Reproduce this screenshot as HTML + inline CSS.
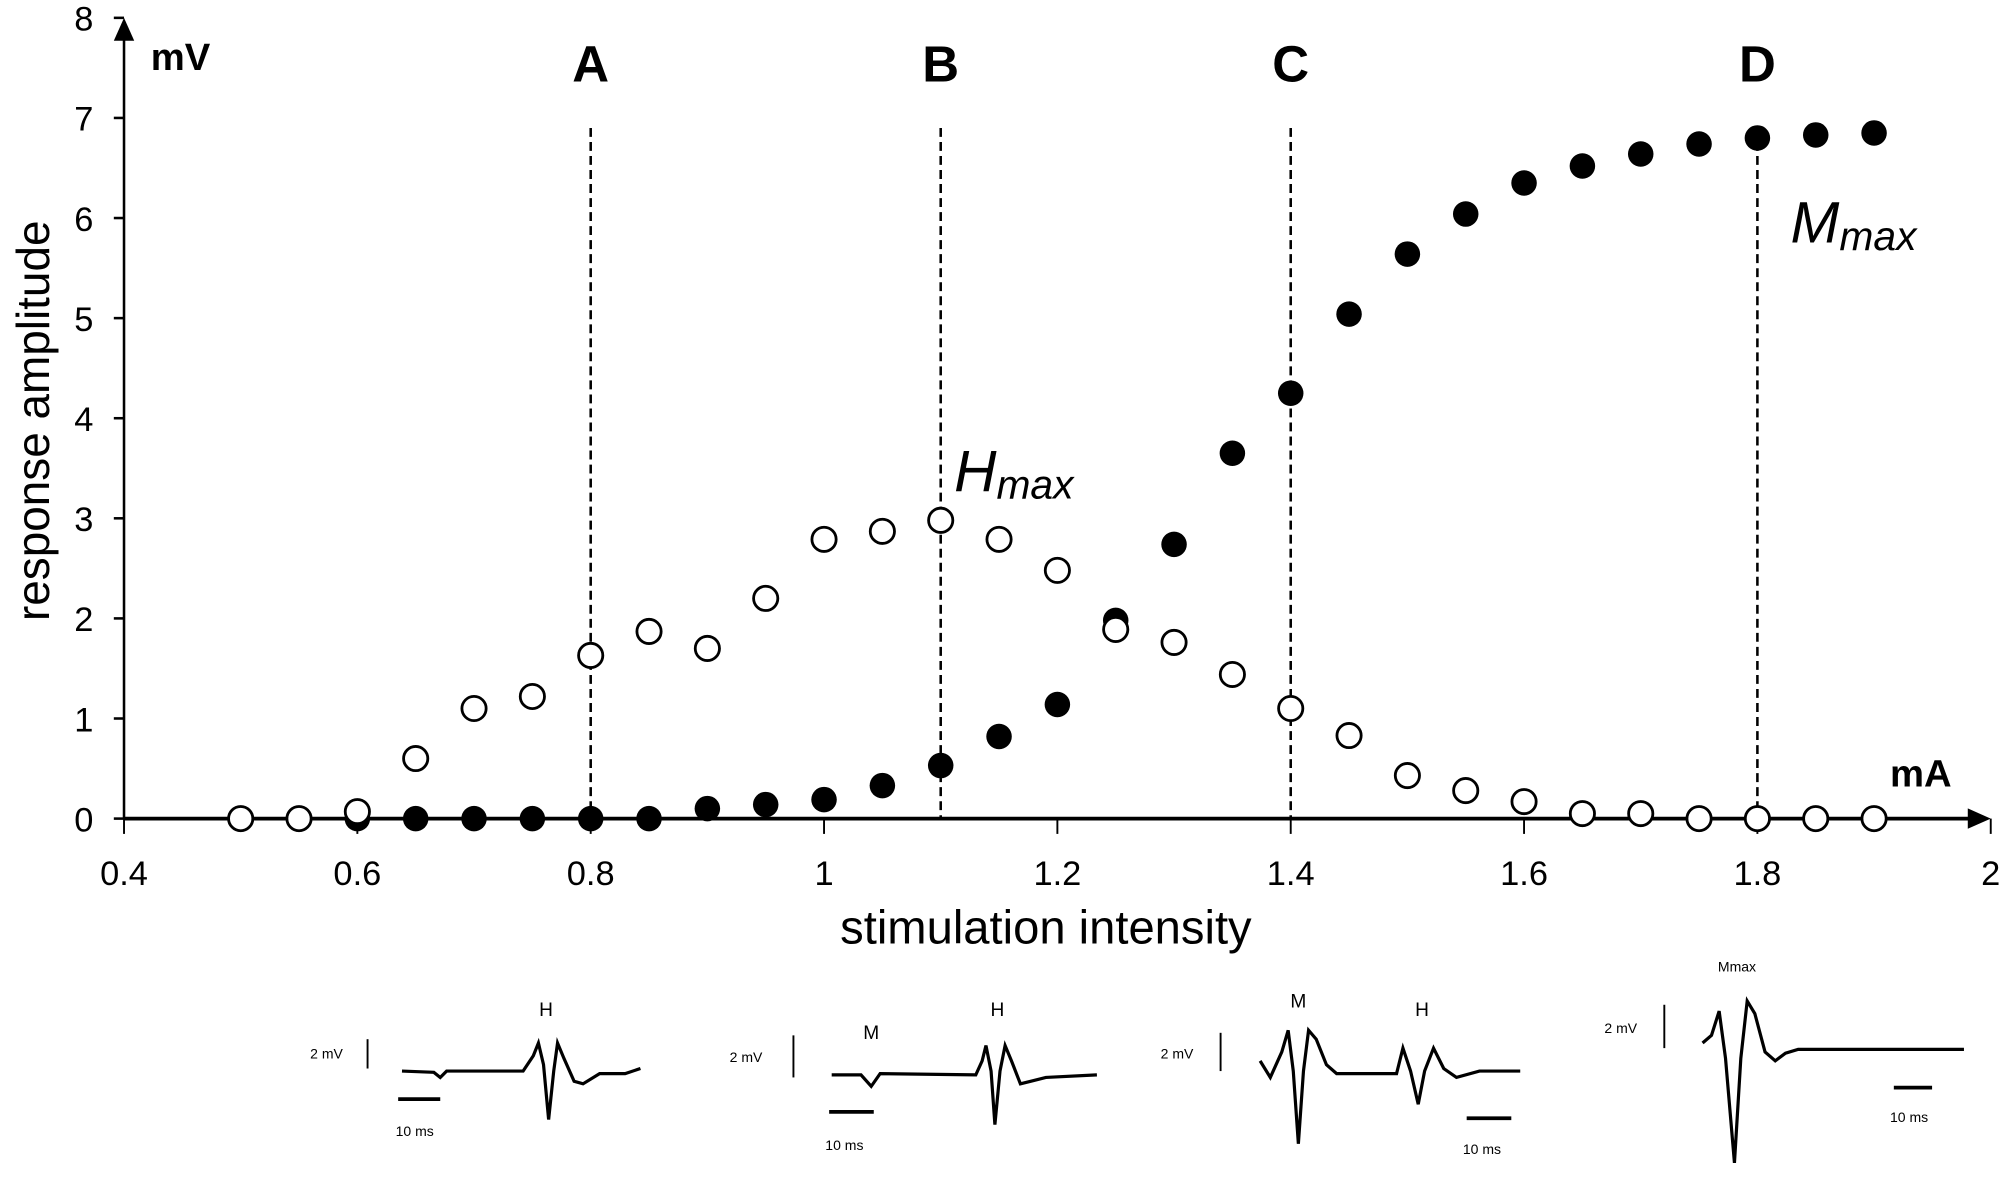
<!DOCTYPE html>
<html><head><meta charset="utf-8"><style>
html,body{margin:0;padding:0;background:#fff;}
svg{display:block;font-family:"Liberation Sans",sans-serif;}
</style></head><body>
<svg id="chart" width="2000" height="1182" viewBox="0 0 1568 927" xmlns="http://www.w3.org/2000/svg">
<g id="axes"></g>
<g id="marks"></g>
<text x="118" y="55" font-size="30" font-weight="bold">mV</text>
<text x="1482" y="617" font-size="30" font-weight="bold">mA</text>
<text transform="translate(38,330) rotate(-90)" text-anchor="middle" font-size="36">response amplitude</text>
<text x="820" y="740" text-anchor="middle" font-size="37">stimulation intensity</text>
<text x="748" y="385" font-size="46" font-style="italic">H<tspan font-size="32" dy="6">max</tspan></text>
<text x="1404" y="190" font-size="46" font-style="italic">M<tspan font-size="32" dy="6">max</tspan></text>
<g fill="none" stroke="#000" stroke-width="2.5">
<path d="M315 840 L340 841 L345 845 L350 840 L410 840 L418 828 L422 818 L426 835 L430 878 L434 840 L437 818 L442 830 L450 848 L457 850 L470 842 L490 842 L502 838"/>
<line x1="288" y1="815" x2="288" y2="838" stroke-width="1.5"/><line x1="312" y1="862" x2="345" y2="862" stroke-width="3"/>
</g>
<text x="428" y="797" font-size="15" text-anchor="middle">H</text>
<text x="243" y="830" font-size="11">2 mV</text>
<text x="310" y="891" font-size="11">10 ms</text>
<g fill="none" stroke="#000" stroke-width="2.5">
<path d="M652 843 L675 843 L683 852 L690 842 L765 843 L770 832 L773 820 L777 840 L780 882 L784 840 L788 820 L793 832 L800 850 L808 848 L820 845 L860 843"/>
<line x1="622" y1="812" x2="622" y2="845" stroke-width="1.5"/><line x1="650" y1="872" x2="685" y2="872" stroke-width="3"/>
</g>
<text x="683" y="815" font-size="15" text-anchor="middle">M</text>
<text x="782" y="797" font-size="15" text-anchor="middle">H</text>
<text x="572" y="833" font-size="11">2 mV</text>
<text x="647" y="902" font-size="11">10 ms</text>
<g fill="none" stroke="#000" stroke-width="2.5">
<path d="M988 832 L996 845 L1005 825 L1010 808 L1014 840 L1018 897 L1022 840 L1026 808 L1032 815 L1040 835 L1048 842 L1095 842 L1100 822 L1106 840 L1112 866 L1117 840 L1124 822 L1132 838 L1142 845 L1160 840 L1192 840"/>
<line x1="957" y1="810" x2="957" y2="840" stroke-width="1.5"/><line x1="1150" y1="877" x2="1185" y2="877" stroke-width="3"/>
</g>
<text x="1018" y="790" font-size="15" text-anchor="middle">M</text>
<text x="1115" y="797" font-size="15" text-anchor="middle">H</text>
<text x="910" y="830" font-size="11">2 mV</text>
<text x="1147" y="905" font-size="11">10 ms</text>
<g fill="none" stroke="#000" stroke-width="2.5">
<path d="M1335 818 L1342 812 L1348 793 L1353 830 L1360 912 L1365 830 L1370 785 L1376 795 L1384 825 L1392 832 L1400 826 L1410 823 L1540 823"/>
<line x1="1305" y1="788" x2="1305" y2="822" stroke-width="1.5"/><line x1="1485" y1="853" x2="1515" y2="853" stroke-width="3"/>
</g>
<text x="1362" y="762" font-size="11" text-anchor="middle">Mmax</text>
<text x="1258" y="810" font-size="11">2 mV</text>
<text x="1482" y="880" font-size="11">10 ms</text>
</svg>
<script>
const xTicks = [0.4, 0.6, 0.8, 1, 1.2, 1.4, 1.6, 1.8, 2];
const xTickLabels = ["0.4","0.6","0.8","1","1.2","1.4","1.6","1.8","2"];
const yTicks = [0,1,2,3,4,5,6,7,8];
const hX = [0.5,0.55,0.6,0.65,0.7,0.75,0.8,0.85,0.9,0.95,1.0,1.05,1.1,1.15,1.2,1.25,1.3,1.35,1.4,1.45,1.5,1.55,1.6,1.65,1.7,1.75,1.8,1.85,1.9];
const hY = [0,0,0.07,0.6,1.1,1.22,1.63,1.87,1.7,2.2,2.79,2.87,2.98,2.79,2.48,1.89,1.76,1.44,1.1,0.83,0.43,0.28,0.17,0.05,0.05,0,0,0,0];
const mX = [0.6,0.65,0.7,0.75,0.8,0.85,0.9,0.95,1.0,1.05,1.1,1.15,1.2,1.25,1.3,1.35,1.4,1.45,1.5,1.55,1.6,1.65,1.7,1.75,1.8,1.85,1.9];
const mY = [0,0,0,0,0,0,0.1,0.14,0.19,0.33,0.53,0.82,1.14,1.98,2.74,3.65,4.25,5.04,5.64,6.04,6.35,6.52,6.64,6.74,6.8,6.83,6.85];
const markerX = [0.8,1.1,1.4,1.8];
const markerLabels = ["A","B","C","D"];
const markerTop = 6.9;

const NS="http://www.w3.org/2000/svg";
const sx = v => 97 + (v-0.4)*915;
const sy = v => 642 - v*78.5;
function mk(tag, attrs, parent){const e=document.createElementNS(NS,tag);for(const k in attrs)e.setAttribute(k,attrs[k]);parent.appendChild(e);return e;}
const axes=document.getElementById('axes'), marks=document.getElementById('marks');
let e;
e=mk('line',{x1:sx(0.4),y1:sy(0),x2:sx(2)-12,y2:sy(0),stroke:'#000','stroke-width':3},axes);


e=mk('polygon',{points:`${sx(2)},${sy(0)} ${sx(2)-18},${sy(0)-8} ${sx(2)-18},${sy(0)+8}`,fill:'#000'},axes);


e=mk('line',{x1:sx(0.4),y1:sy(0),x2:sx(0.4),y2:sy(8)+10,stroke:'#000','stroke-width':2},axes);


e=mk('polygon',{points:`${sx(0.4)},${sy(8)} ${sx(0.4)-8},${sy(8)+18} ${sx(0.4)+8},${sy(8)+18}`,fill:'#000'},axes);


xTicks.forEach((t,i)=>{
  e=mk('line',{x1:sx(t),y1:sy(0),x2:sx(t),y2:sy(0)+12,stroke:'#000','stroke-width':1.5},axes);
  
  
  e=mk('text',{x:sx(t),y:sy(0)+52,'text-anchor':'middle','font-size':27},axes);
  e.textContent=xTickLabels[i];
  
  
});
yTicks.forEach(t=>{
  e=mk('line',{x1:sx(0.4)-8,y1:sy(t),x2:sx(0.4),y2:sy(t),stroke:'#000','stroke-width':2},axes);
  
  
  e=mk('text',{x:sx(0.4)-24,y:sy(t)+10,'text-anchor':'end','font-size':27},axes);
  e.textContent=String(t);
  
  
});
markerX.forEach((v,i)=>{
  e=mk('line',{x1:sx(v),y1:sy(markerTop),x2:sx(v),y2:sy(0),stroke:'#000','stroke-width':2,'stroke-dasharray':'7,4'},axes);
  
  
  e=mk('text',{x:sx(v),y:64,'text-anchor':'middle','font-size':40,'font-weight':'bold'},axes);
  e.textContent=markerLabels[i];
  
  
});
mX.forEach((v,i)=>{
  e=mk('circle',{cx:sx(v),cy:sy(mY[i]),r:10,fill:'#000'},marks);
  
  
});
hX.forEach((v,i)=>{
  e=mk('circle',{cx:sx(v),cy:sy(hY[i]),r:9.5,fill:'#fff',stroke:'#000','stroke-width':2.2},marks);
  
  
});
</script>
</body></html>
